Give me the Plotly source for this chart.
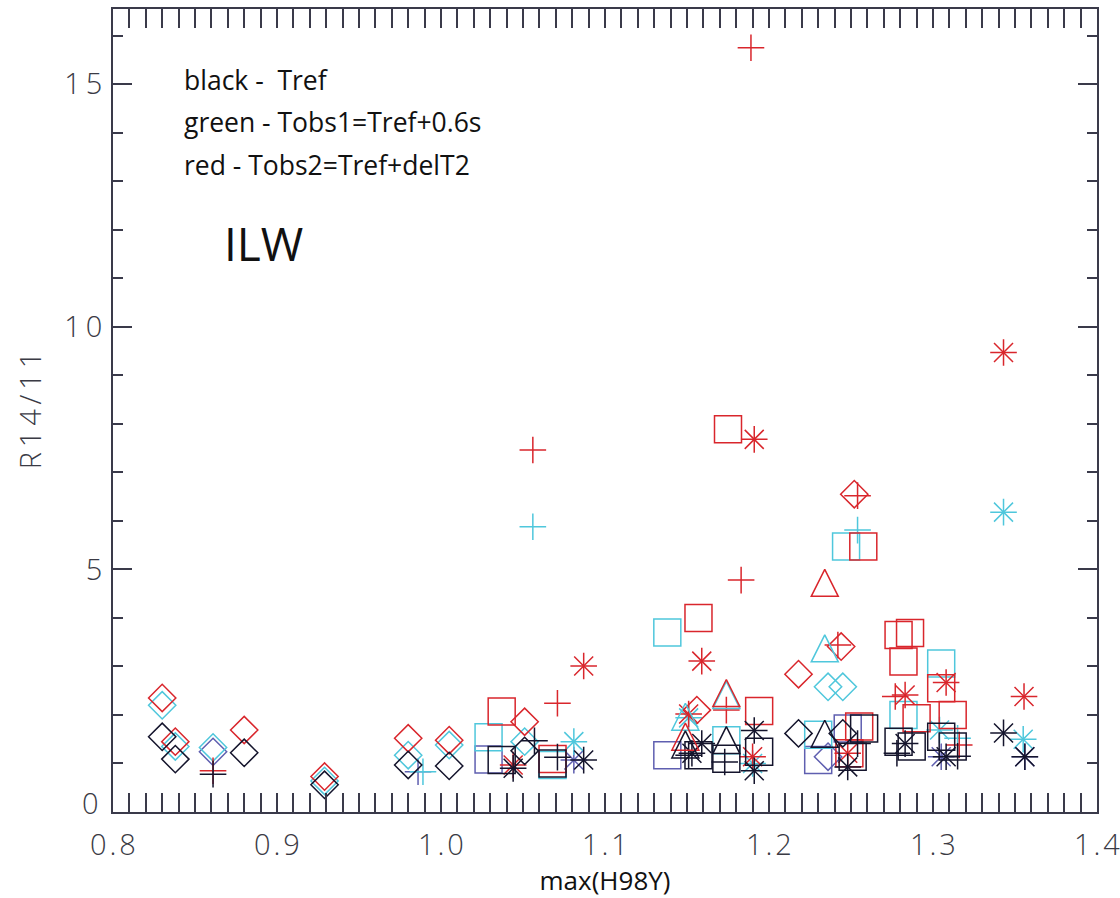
import plotly.graph_objects as go

# ---------------- data ----------------
# black - Tref
BLACK_DIAMOND_X = [0.830, 0.838, 0.880, 0.929, 0.980, 1.005, 1.051, 1.218, 1.245]
BLACK_DIAMOND_Y = [1.55, 1.09, 1.22, 0.56, 0.97, 0.95, 1.26, 1.62, 1.62]
BLACK_PLUS_X = [0.861, 1.057, 1.071, 1.151, 1.173, 1.254, 1.278, 1.315]
BLACK_PLUS_Y = [0.78, 1.47, 1.13, 1.17, 1.03, 1.41, 1.21, 1.15]
BLACK_SQUARE_X = [1.037, 1.068, 1.157, 1.174, 1.194, 1.251, 1.258, 1.279, 1.287, 1.305, 1.312]
BLACK_SQUARE_Y = [1.07, 1.00, 1.17, 1.10, 1.24, 1.14, 1.72, 1.45, 1.35, 1.55, 1.35]
BLACK_TRIANGLE_X = [1.149, 1.174, 1.234]
BLACK_TRIANGLE_Y = [1.30, 1.39, 1.52]
BLACK_ASTER_X = [1.044, 1.087, 1.153, 1.159, 1.191, 1.191, 1.248, 1.283, 1.308, 1.343, 1.356]
BLACK_ASTER_Y = [0.90, 1.07, 1.21, 1.41, 1.68, 0.85, 0.93, 1.41, 1.14, 1.63, 1.14]

# blue
BLUE_DIAMOND_X = [0.861, 1.236]
BLUE_DIAMOND_Y = [1.24, 1.14]
BLUE_PLUS_X = [0.986]
BLUE_PLUS_Y = [0.83]
BLUE_SQUARE_X = [1.029, 1.138, 1.230, 1.248]
BLUE_SQUARE_Y = [1.08, 1.17, 1.07, 1.72]
BLUE_ASTER_X = [1.081, 1.305, 1.356]
BLUE_ASTER_Y = [1.07, 1.14, 1.14]

# green (cyan) - Tobs1 = Tref + 0.6s
CYAN_DIAMOND_X = [0.830, 0.838, 0.861, 0.929, 0.980, 1.005, 1.051, 1.236, 1.245]
CYAN_DIAMOND_Y = [2.20, 1.35, 1.33, 0.64, 1.17, 1.38, 1.45, 2.58, 2.58]
CYAN_PLUS_X = [0.989, 1.056, 1.254, 1.315]
CYAN_PLUS_Y = [0.83, 5.88, 5.81, 1.52]
CYAN_SQUARE_X = [1.029, 1.068, 1.138, 1.174, 1.230, 1.247, 1.282, 1.305]
CYAN_SQUARE_Y = [1.54, 0.97, 3.70, 1.48, 1.59, 5.47, 2.00, 3.06]
CYAN_TRIANGLE_X = [1.149, 1.174, 1.234]
CYAN_TRIANGLE_Y = [1.87, 2.32, 3.28]
CYAN_ASTER_X = [1.081, 1.151, 1.190, 1.304, 1.343, 1.355]
CYAN_ASTER_Y = [1.45, 1.94, 1.00, 1.69, 6.18, 1.50]

# red - Tobs2 = Tref + delT2
RED_DIAMOND_X = [0.830, 0.838, 0.880, 0.929, 0.980, 1.005, 1.051, 1.156, 1.218, 1.244, 1.252]
RED_DIAMOND_Y = [2.35, 1.45, 1.69, 0.73, 1.52, 1.48, 1.86, 2.10, 2.84, 3.41, 6.55]
RED_PLUS_X = [0.861, 1.056, 1.071, 1.183, 1.174, 1.189, 1.242, 1.254, 1.277, 1.316]
RED_PLUS_Y = [0.85, 7.46, 2.24, 4.78, 2.10, 15.75, 3.44, 6.52, 2.38, 1.38]
RED_SQUARE_X = [1.037, 1.068, 1.157, 1.175, 1.194, 1.255, 1.249, 1.2575, 1.279, 1.286, 1.282, 1.290, 1.305, 1.312]
RED_SQUARE_Y = [2.07, 1.09, 4.00, 7.89, 2.08, 1.76, 1.21, 5.47, 3.65, 3.69, 3.10, 1.93, 2.55, 2.00]
RED_TRIANGLE_X = [1.234, 1.174, 1.149]
RED_TRIANGLE_Y = [4.63, 2.36, 1.46]
RED_ASTER_X = [1.044, 1.087, 1.159, 1.191, 1.151, 1.190, 1.248, 1.283, 1.308, 1.343, 1.3555]
RED_ASTER_Y = [0.97, 3.01, 3.11, 7.68, 2.02, 1.14, 1.21, 2.41, 2.67, 9.47, 2.38]

X_TICKS = [0.8, 0.9, 1.0, 1.1, 1.2, 1.3, 1.4]
X_TICK_LABELS = ["0.8", "0.9", "1.0", "1.1", "1.2", "1.3", "1.4"]
Y_TICKS = [0, 5, 10, 15]
Y_TICK_LABELS = ["0", "5", "10", "15"]

X_TITLE = "max(H98Y)"
Y_TITLE = "R14/11"
LEGEND_LINES = ["black -\u00a0 Tref", "green - Tobs1=Tref+0.6s", "red - Tobs2=Tref+delT2"]
LABEL = "ILW"

# ---------------- styling ----------------
COLORS = {
    "black": "#14142c",
    "blue": "#5f5fb0",
    "cyan": "#4fc7dc",
    "red": "#d9262c",
}
LW = 1.5
X_RANGE = [0.8, 1.4]
Y_RANGE = [0.0, 16.55]
MARGIN = dict(l=113, r=23, t=9, b=86)
PLOT_H_PX = 898 - MARGIN["t"] - MARGIN["b"]
TRI_SIZE = 27                     # IDL-like triangle: width == height
TRI_LIFT = TRI_SIZE * 2 / 3       # px: apex above the centroid


def spaced(s, sep="\u2009"):
    # IDL-style wide letter spacing for axis labels
    return sep.join(s)


series = [
    ("blue", "square", BLUE_SQUARE_X, BLUE_SQUARE_Y),
    ("blue", "diamond", BLUE_DIAMOND_X, BLUE_DIAMOND_Y),
    ("blue", "plus", BLUE_PLUS_X, BLUE_PLUS_Y),
    ("blue", "aster", BLUE_ASTER_X, BLUE_ASTER_Y),
    ("cyan", "square", CYAN_SQUARE_X, CYAN_SQUARE_Y),
    ("cyan", "diamond", CYAN_DIAMOND_X, CYAN_DIAMOND_Y),
    ("cyan", "triangle", CYAN_TRIANGLE_X, CYAN_TRIANGLE_Y),
    ("cyan", "plus", CYAN_PLUS_X, CYAN_PLUS_Y),
    ("cyan", "aster", CYAN_ASTER_X, CYAN_ASTER_Y),
    ("red", "square", RED_SQUARE_X, RED_SQUARE_Y),
    ("red", "diamond", RED_DIAMOND_X, RED_DIAMOND_Y),
    ("red", "triangle", RED_TRIANGLE_X, RED_TRIANGLE_Y),
    ("red", "plus", RED_PLUS_X, RED_PLUS_Y),
    ("red", "aster", RED_ASTER_X, RED_ASTER_Y),
    ("black", "square", BLACK_SQUARE_X, BLACK_SQUARE_Y),
    ("black", "diamond", BLACK_DIAMOND_X, BLACK_DIAMOND_Y),
    ("black", "triangle", BLACK_TRIANGLE_X, BLACK_TRIANGLE_Y),
    ("black", "plus", BLACK_PLUS_X, BLACK_PLUS_Y),
    ("black", "aster", BLACK_ASTER_X, BLACK_ASTER_Y),
]


def add_markers(fig, xs, ys, color, symbol, size, yaxis="y"):
    fig.add_trace(go.Scatter(
        x=xs, y=ys, mode="markers", showlegend=False, yaxis=yaxis,
        marker=dict(symbol=symbol, size=size, color=color,
                    line=dict(color=color, width=LW)),
    ))


fig = go.Figure()
for cname, kind, xs, ys in series:
    c = COLORS[cname]
    if kind == "square":
        add_markers(fig, xs, ys, c, "square-open", 27)
    elif kind == "diamond":
        add_markers(fig, xs, ys, c, "diamond-open", 21)
    elif kind == "plus":
        add_markers(fig, xs, ys, c, "cross-thin-open", 19)
    elif kind == "triangle":
        # apex-anchored triangle drawn on an overlay axis offset so the centroid sits on the value
        add_markers(fig, xs, ys, c, "arrow-up-open", TRI_SIZE, yaxis="y2")
    elif kind == "aster":
        add_markers(fig, xs, ys, c, "cross-thin-open", 19)
        add_markers(fig, xs, ys, c, "x-thin-open", 19)

AX = "#3a3a4a"
TXT = "#3a3a44"
tickfont = dict(family="Open Sans", size=29, color=TXT, weight=300)

fig.update_xaxes(
    range=X_RANGE, tickvals=X_TICKS, ticktext=[spaced(t, "\u200a") for t in X_TICK_LABELS],
    showgrid=False, zeroline=False, showline=True, linecolor=AX, linewidth=2,
    mirror="allticks", ticks="inside", ticklen=19, tickwidth=1.5, tickcolor=AX,
    minor=dict(dtick=0.01, ticks="inside", ticklen=10, tickwidth=1.5, tickcolor=AX, showgrid=False),
    tickfont=tickfont, ticklabelstandoff=6, ticklabeloverflow="allow", automargin=False,
    title=dict(text=X_TITLE, font=dict(family="Open Sans", size=26, color="#111"), standoff=4),
)
# the bottom "0" label sits slightly above the axis corner (as in the IDL original),
# so it is drawn as an annotation instead of the regular tick label
y_ticktext = [""] + [spaced(t) for t in Y_TICK_LABELS[1:]]
fig.update_layout(yaxis=dict(
    range=Y_RANGE, tickvals=Y_TICKS, ticktext=y_ticktext,
    showgrid=False, zeroline=False, showline=True, linecolor=AX, linewidth=2,
    mirror="allticks", ticks="inside", ticklen=19, tickwidth=1.5, tickcolor=AX,
    minor=dict(dtick=1, ticks="inside", ticklen=10, tickwidth=1.5, tickcolor=AX, showgrid=False),
    tickfont=tickfont, ticklabelstandoff=3, ticklabeloverflow="allow", automargin=False,
    title=dict(text=spaced(Y_TITLE), font=dict(family="Open Sans", size=29, color=TXT, weight=300),
               standoff=14),
))
fig.add_annotation(text=spaced(Y_TICK_LABELS[0]), xref="paper", yref="y", x=-0.012, y=Y_TICKS[0],
                   xanchor="right", yanchor="middle", yshift=10, showarrow=False, font=tickfont)

shift = TRI_LIFT * (Y_RANGE[1] - Y_RANGE[0]) / PLOT_H_PX
fig.update_layout(yaxis2=dict(
    overlaying="y", range=[Y_RANGE[0] - shift, Y_RANGE[1] - shift], visible=False,
))

legend_y = [0.9116, 0.859, 0.806]
for txt, yy in zip(LEGEND_LINES, legend_y):
    fig.add_annotation(text=txt, xref="paper", yref="paper", x=0.070, y=yy,
                       xanchor="left", yanchor="middle", showarrow=False,
                       font=dict(family="Open Sans", size=26.5, color="#111"))
fig.add_annotation(text=LABEL, xref="paper", yref="paper", x=0.111, y=0.7086,
                   xanchor="left", yanchor="middle", showarrow=False,
                   font=dict(family="Open Sans", size=46, color="#111"))

fig.update_layout(
    width=1120, height=898,
    margin=MARGIN,
    paper_bgcolor="white", plot_bgcolor="white",
)

fig.write_html("out.html")
